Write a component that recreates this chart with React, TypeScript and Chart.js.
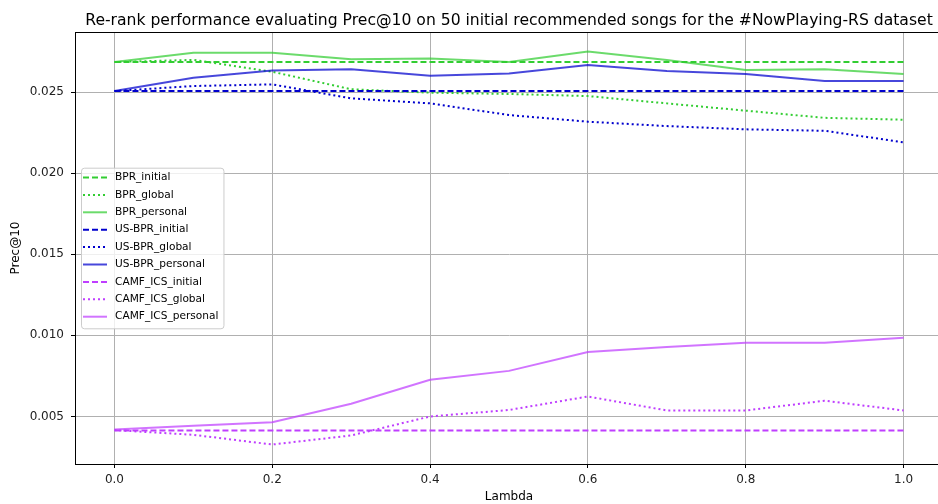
import React, { useEffect, useRef } from "react";
import { Chart, registerables } from "chart.js";

Chart.register(...registerables);

const lambdas = [0.0, 0.1, 0.2, 0.3, 0.4, 0.5, 0.6, 0.7, 0.8, 0.9, 1.0];

const bprInitial = [0.02685, 0.02685, 0.02685, 0.02685, 0.02685, 0.02685, 0.02685, 0.02685, 0.02685, 0.02685, 0.02685];
const bprGlobal = [0.02685, 0.02698, 0.02625, 0.02517, 0.02496, 0.02488, 0.02475, 0.0243, 0.02385, 0.02341, 0.02329];
const bprPersonal = [0.02685, 0.02742, 0.02742, 0.02702, 0.02706, 0.02685, 0.02749, 0.02698, 0.02636, 0.0264, 0.02611];

const usbprInitial = [0.02506, 0.02506, 0.02506, 0.02506, 0.02506, 0.02506, 0.02506, 0.02506, 0.02506, 0.02506, 0.02506];
const usbprGlobal = [0.02506, 0.02537, 0.02547, 0.02461, 0.0243, 0.02358, 0.02317, 0.0229, 0.0227, 0.02261, 0.0219];
const usbprPersonal = [0.02506, 0.02588, 0.02632, 0.0264, 0.02601, 0.02614, 0.02667, 0.0263, 0.02611, 0.02568, 0.02568];

const camfInitial = [0.00414, 0.00414, 0.00414, 0.00414, 0.00414, 0.00414, 0.00414, 0.00414, 0.00414, 0.00414, 0.00414];
const camfGlobal = [0.00416, 0.00387, 0.00327, 0.00383, 0.005, 0.0054, 0.00623, 0.00537, 0.00537, 0.00597, 0.00537];
const camfPersonal = [0.0042, 0.00443, 0.00465, 0.00578, 0.00726, 0.00781, 0.00897, 0.00928, 0.00955, 0.00955, 0.00986];

const xTicks = [0.0, 0.2, 0.4, 0.6, 0.8, 1.0];
const yTicks = [0.005, 0.01, 0.015, 0.02, 0.025];

const seriesNames = [
  "BPR_initial", "BPR_global", "BPR_personal",
  "US-BPR_initial", "US-BPR_global", "US-BPR_personal",
  "CAMF_ICS_initial", "CAMF_ICS_global", "CAMF_ICS_personal",
];
const seriesValues = [
  bprInitial, bprGlobal, bprPersonal,
  usbprInitial, usbprGlobal, usbprPersonal,
  camfInitial, camfGlobal, camfPersonal,
];

const TITLE = "Re-rank performance evaluating Prec@10 on 50 initial recommended songs for the #NowPlaying-RS dataset";

const FONT = "'DejaVu Sans', sans-serif";

const GREEN = "#32cd32";
const GREEN_L = "rgba(50,205,50,0.72)";
const BLUE = "#0000cd";
const BLUE_L = "rgba(0,0,205,0.72)";
const PURPLE = "#bf3eff";
const PURPLE_L = "rgba(191,62,255,0.72)";

const seriesColors = [GREEN, GREEN, GREEN_L, BLUE, BLUE, BLUE_L, PURPLE, PURPLE, PURPLE_L];
const DASHED = [6, 3];
const DOTTED = [2, 3];
const seriesDash = [DASHED, DOTTED, [], DASHED, DOTTED, [], DASHED, DOTTED, []];

const frameAndLegend = {
  id: "frameAndLegend",
  afterDatasetsDraw(chart: any) {
    const { ctx, chartArea } = chart;
    ctx.save();
    // full frame (spines)
    ctx.strokeStyle = "#000";
    ctx.lineWidth = 1;
    ctx.strokeRect(chartArea.left + 0.5, chartArea.top + 0.5, chartArea.right - chartArea.left - 1, chartArea.bottom - chartArea.top);

    // title centred over the plot area
    ctx.fillStyle = "#000";
    ctx.font = `15.6px ${FONT}`;
    ctx.textAlign = "center";
    ctx.textBaseline = "alphabetic";
    ctx.fillText(TITLE, (chartArea.left + chartArea.right) / 2, 24.5);

    // legend
    const ds = chart.data.datasets;
    const fontPx = 10.6;
    ctx.font = `${fontPx}px ${FONT}`;
    let maxW = 0;
    ds.forEach((d: any) => { maxW = Math.max(maxW, ctx.measureText(d.label).width); });
    const rowH = 17.4;
    const boxH = ds.length * rowH + 4;
    const boxW = 34 + maxW + 5;
    const boxX = chartArea.left + 6;
    const boxY = (chartArea.top + chartArea.bottom) / 2 - boxH / 2;
    ctx.fillStyle = "rgba(255,255,255,0.8)";
    ctx.strokeStyle = "#cccccc";
    ctx.lineWidth = 1;
    ctx.beginPath();
    const r = 3;
    const x0 = boxX + 0.5, y0 = boxY + 0.5, w = boxW, h = boxH;
    ctx.moveTo(x0 + r, y0);
    ctx.lineTo(x0 + w - r, y0);
    ctx.quadraticCurveTo(x0 + w, y0, x0 + w, y0 + r);
    ctx.lineTo(x0 + w, y0 + h - r);
    ctx.quadraticCurveTo(x0 + w, y0 + h, x0 + w - r, y0 + h);
    ctx.lineTo(x0 + r, y0 + h);
    ctx.quadraticCurveTo(x0, y0 + h, x0, y0 + h - r);
    ctx.lineTo(x0, y0 + r);
    ctx.quadraticCurveTo(x0, y0, x0 + r, y0);
    ctx.closePath();
    ctx.fill();
    ctx.stroke();
    ds.forEach((d: any, i: number) => {
      const cy = boxY + 9.8 + i * rowH;
      ctx.strokeStyle = d.borderColor;
      ctx.lineWidth = d.borderWidth;
      ctx.setLineDash(d.borderDash || []);
      ctx.beginPath();
      ctx.moveTo(boxX + 2, cy);
      ctx.lineTo(boxX + 26, cy);
      ctx.stroke();
      ctx.setLineDash([]);
      ctx.fillStyle = "#000";
      ctx.textAlign = "left";
      ctx.textBaseline = "middle";
      ctx.fillText(d.label, boxX + 34, cy);
    });
    ctx.restore();
  },
};

export default function App() {
  const ref = useRef<HTMLCanvasElement | null>(null);
  useEffect(() => {
    if (!ref.current) return;
    const datasets = seriesNames.map((name, i) => ({
      label: name,
      data: lambdas.map((x, j) => ({ x, y: seriesValues[i][j] })),
      borderColor: seriesColors[i],
      backgroundColor: seriesColors[i],
      borderWidth: 2,
      borderDash: seriesDash[i],
      pointRadius: 0,
      fill: false,
      tension: 0,
      order: seriesNames.length - i,
    }));
    const chart = new Chart(ref.current, {
      type: "line",
      data: { datasets },
      plugins: [frameAndLegend],
      options: {
        animation: false,
        responsive: false,
        maintainAspectRatio: false,
        layout: { padding: { top: 32, left: 0, right: 0, bottom: 0 } },
        plugins: {
          legend: { display: false },
          tooltip: { enabled: false },
          title: { display: false },
        },
        scales: {
          x: {
            type: "linear",
            min: -0.05,
            max: 1.05,
            afterBuildTicks: (s: any) => { s.ticks = xTicks.map((v) => ({ value: v })); },
            afterFit: (s: any) => { s.height = 40; },
            ticks: {
              color: "#222",
              font: { family: FONT, size: 12 },
              padding: 5,
              maxRotation: 0,
              callback: (v: any) => Number(v).toFixed(1),
            },
            grid: { color: "#b0b0b0", lineWidth: 1, tickColor: "#000", tickLength: 4, drawTicks: true },
            border: { color: "#000", width: 1 },
            title: { display: true, text: "Lambda", color: "#000", font: { family: FONT, size: 12 }, padding: { top: 0, bottom: 0 } },
          },
          y: {
            type: "linear",
            min: 0.00207,
            max: 0.0287,
            afterBuildTicks: (s: any) => { s.ticks = yTicks.map((v) => ({ value: v })); },
            afterFit: (s: any) => { s.width = 75; },
            ticks: {
              color: "#222",
              font: { family: FONT, size: 12 },
              padding: 7,
              callback: (v: any) => Number(v).toFixed(3),
            },
            grid: { color: "#b0b0b0", lineWidth: 1, tickColor: "#000", tickLength: 4, drawTicks: true },
            border: { color: "#000", width: 1 },
            title: { display: true, text: "Prec@10", color: "#000", font: { family: FONT, size: 12 }, padding: { top: 9, bottom: 0 } },
          },
        },
      },
    } as any);
    return () => chart.destroy();
  }, []);
  return (
    <div style={{ position: "fixed", left: 0, top: 0, width: 943, height: 504, background: "#fff" }}>
      <canvas ref={ref} width={943} height={504} style={{ width: 943, height: 504, display: "block" }} />
    </div>
  );
}
